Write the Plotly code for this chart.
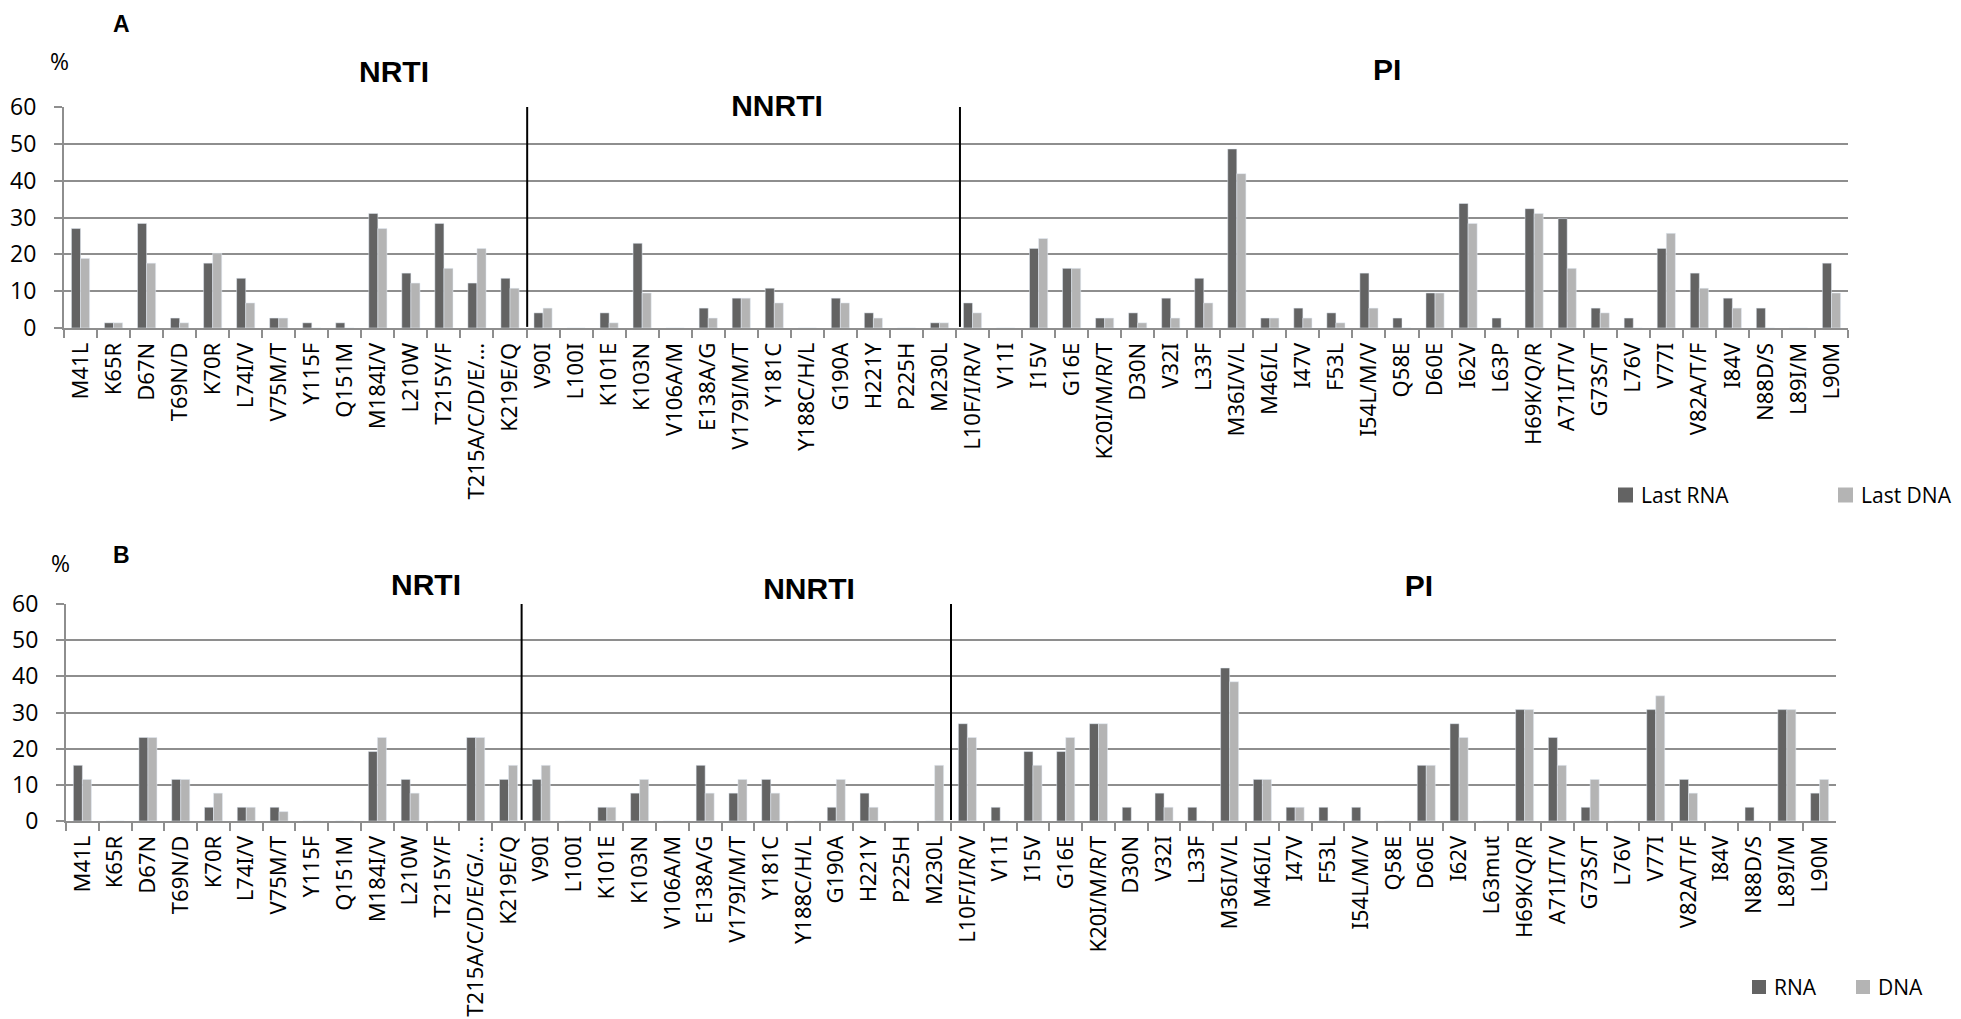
import plotly.graph_objects as go

# ---- mutation categories ----
nrti_a = ["M41L", "K65R", "D67N", "T69N/D", "K70R", "L74I/V", "V75M/T", "Y115F", "Q151M",
          "M184I/V", "L210W", "T215Y/F", "T215A/C/D/E/...", "K219E/Q"]
nrti_b = ["M41L", "K65R", "D67N", "T69N/D", "K70R", "L74I/V", "V75M/T", "Y115F", "Q151M",
          "M184I/V", "L210W", "T215Y/F", "T215A/C/D/E/G/...", "K219E/Q"]
nnrti = ["V90I", "L100I", "K101E", "K103N", "V106A/M", "E138A/G", "V179I/M/T", "Y181C",
         "Y188C/H/L", "G190A", "H221Y", "P225H", "M230L"]
pi_a = ["L10F/I/R/V", "V11I", "I15V", "G16E", "K20I/M/R/T", "D30N", "V32I", "L33F", "M36I/V/L",
        "M46I/L", "I47V", "F53L", "I54L/M/V", "Q58E", "D60E", "I62V", "L63P", "H69K/Q/R",
        "A71I/T/V", "G73S/T", "L76V", "V77I", "V82A/T/F", "I84V", "N88D/S", "L89I/M", "L90M"]
pi_b = ["L10F/I/R/V", "V11I", "I15V", "G16E", "K20I/M/R/T", "D30N", "V32I", "L33F", "M36I/V/L",
        "M46I/L", "I47V", "F53L", "I54L/M/V", "Q58E", "D60E", "I62V", "L63mut", "H69K/Q/R",
        "A71I/T/V", "G73S/T", "L76V", "V77I", "V82A/T/F", "I84V", "N88D/S", "L89I/M", "L90M"]

# ---- panel A: last RNA vs last DNA (%) ----
a_rna_nrti = [27.0, 1.4, 28.4, 2.7, 17.6, 13.5, 2.7, 1.4, 1.4, 31.1, 14.9, 28.4, 12.2, 13.5]
a_dna_nrti = [18.9, 1.4, 17.6, 1.4, 20.3, 6.8, 2.7, 0, 0, 27.0, 12.2, 16.2, 21.6, 10.8]
a_rna_nnrti = [4.1, 0, 4.1, 23.0, 0, 5.4, 8.1, 10.8, 0, 8.1, 4.1, 0, 1.4]
a_dna_nnrti = [5.4, 0, 1.4, 9.5, 0, 2.7, 8.1, 6.8, 0, 6.8, 2.7, 0, 1.4]
a_rna_pi = [6.8, 0, 21.6, 16.2, 2.7, 4.1, 8.1, 13.5, 48.6, 2.7, 5.4, 4.1, 14.9, 2.7, 9.5,
            33.8, 2.7, 32.4, 29.7, 5.4, 2.7, 21.6, 14.9, 8.1, 5.4, 0, 17.6]
a_dna_pi = [4.1, 0, 24.3, 16.2, 2.7, 1.4, 2.7, 6.8, 41.9, 2.7, 2.7, 1.4, 5.4, 0, 9.5,
            28.4, 0, 31.1, 16.2, 4.1, 0, 25.7, 10.8, 5.4, 0, 0, 9.5]

# ---- panel B: RNA vs DNA (%) ----
b_rna_nrti = [15.4, 0, 23.1, 11.5, 3.8, 3.8, 3.8, 0, 0, 19.2, 11.5, 0, 23.1, 11.5]
b_dna_nrti = [11.5, 0, 23.1, 11.5, 7.7, 3.8, 2.6, 0, 0, 23.1, 7.7, 0, 23.1, 15.4]
b_rna_nnrti = [11.5, 0, 3.8, 7.7, 0, 15.4, 7.7, 11.5, 0, 3.8, 7.7, 0, 0]
b_dna_nnrti = [15.4, 0, 3.8, 11.5, 0, 7.7, 11.5, 7.7, 0, 11.5, 3.8, 0, 15.4]
b_rna_pi = [26.9, 3.8, 19.2, 19.2, 26.9, 3.8, 7.7, 3.8, 42.3, 11.5, 3.8, 3.8, 3.8, 0, 15.4,
            26.9, 0, 30.8, 23.1, 3.8, 0, 30.8, 11.5, 0, 3.8, 30.8, 7.7]
b_dna_pi = [23.1, 0, 15.4, 23.1, 26.9, 0, 3.8, 0, 38.5, 11.5, 3.8, 0, 0, 0, 15.4,
            23.1, 0, 30.8, 15.4, 11.5, 0, 34.6, 7.7, 0, 0, 30.8, 11.5]

y_ticks = [0, 10, 20, 30, 40, 50, 60]

DARK = "#636363"
LIGHT = "#b4b4b4"
GRID = "#8e8e8e"
W, H = 1961, 1019

cats_a = nrti_a + nnrti + pi_a
cats_b = nrti_b + nnrti + pi_b


def px_x(p):
    return p / W


def px_y(p):
    return 1 - p / H


fig = go.Figure()
series = [
    ("Last RNA", cats_a, a_rna_nrti + a_rna_nnrti + a_rna_pi, DARK, "x", "y"),
    ("Last DNA", cats_a, a_dna_nrti + a_dna_nnrti + a_dna_pi, LIGHT, "x", "y"),
    ("RNA", cats_b, b_rna_nrti + b_rna_nnrti + b_rna_pi, DARK, "x2", "y2"),
    ("DNA", cats_b, b_dna_nrti + b_dna_nnrti + b_dna_pi, LIGHT, "x2", "y2"),
]
for name, cats, vals, color, xa, ya in series:
    fig.add_trace(go.Bar(x=cats, y=vals, name=name, marker_color=color,
                         xaxis=xa, yaxis=ya, showlegend=False))

xaxis_common = dict(
    type="category", tickangle=-90, ticks="outside", tickson="boundaries", ticklen=8,
    tickwidth=2, tickcolor=GRID, showline=True, linecolor=GRID, linewidth=2,
    showgrid=False, tickfont=dict(family="Noto Sans", size=22, color="#000"),
    ticklabelstandoff=4, fixedrange=True,
)
yaxis_common = dict(
    range=[0, 60], tickvals=y_ticks, ticks="outside", ticklen=8, tickwidth=2, tickcolor=GRID,
    showline=True, linecolor=GRID, linewidth=2, showgrid=True, gridcolor=GRID, gridwidth=2,
    zeroline=False, tickfont=dict(family="Open Sans", size=23, color="#000"),
    ticklabelstandoff=13, fixedrange=True,
)

fig.update_layout(
    width=W, height=H,
    margin=dict(l=0, r=0, t=0, b=0, autoexpand=False),
    paper_bgcolor="white", plot_bgcolor="white",
    barmode="group", bargap=0.45, bargroupgap=0,
    xaxis=dict(domain=[px_x(64), px_x(1848)], anchor="y", categoryorder="array",
               categoryarray=cats_a, **xaxis_common),
    yaxis=dict(domain=[px_y(328), px_y(107)], anchor="x", **yaxis_common),
    xaxis2=dict(domain=[px_x(66), px_x(1836)], anchor="y2", categoryorder="array",
                categoryarray=cats_b, **xaxis_common),
    yaxis2=dict(domain=[px_y(821), px_y(604)], anchor="x2", **yaxis_common),
)

# drug-class separators
shapes = []
for xr, yr, xs in (("x", "y", (13.52, 26.62)), ("x2", "y2", (13.4, 26.5))):
    for xv in xs:
        shapes.append(dict(type="line", xref=xr, yref=yr, x0=xv, x1=xv, y0=0.3, y1=60.7,
                           line=dict(color="black", width=2), layer="above"))

# legend keys: (swatch left px, swatch size px, centre y px, label, colour)
legend_keys = [
    (1618, 15, 495, "Last RNA", DARK),
    (1838, 15, 495, "Last DNA", LIGHT),
    (1752, 14, 987, "RNA", DARK),
    (1856, 14, 987, "DNA", LIGHT),
]
legend_font = dict(family="Open Sans", size=21, color="#000")
annotations = []
for left, size, cy, label, color in legend_keys:
    shapes.append(dict(type="rect", xref="paper", yref="paper",
                       x0=px_x(left), x1=px_x(left + size),
                       y0=px_y(cy + size / 2), y1=px_y(cy - size / 2),
                       fillcolor=color, line=dict(width=0), layer="above"))
    annotations.append(dict(text=label, x=px_x(left + size + 6), y=px_y(cy),
                            xanchor="left", font=legend_font))
fig.update_layout(shapes=shapes)

bold = dict(family="Liberation Sans", size=30, color="#000")
plain = dict(family="Open Sans", size=23, color="#000")
letter = dict(family="Liberation Sans", size=23, color="#000")
annotations += [
    dict(text="<b>A</b>", x=px_x(121), y=px_y(24), font=letter),
    dict(text="<b>B</b>", x=px_x(121), y=px_y(555), font=letter),
    dict(text="%", x=px_x(59), y=px_y(61), font=plain),
    dict(text="%", x=px_x(60), y=px_y(563), font=plain),
    dict(text="<b>NRTI</b>", x=px_x(394), y=px_y(72), font=bold),
    dict(text="<b>NNRTI</b>", x=px_x(777), y=px_y(105), font=bold, bgcolor="white",
         width=150, borderpad=2),
    dict(text="<b>PI</b>", x=px_x(1387), y=px_y(70), font=bold),
    dict(text="<b>NRTI</b>", x=px_x(426), y=px_y(584), font=bold, bgcolor="white",
         width=150, borderpad=3),
    dict(text="<b>NNRTI</b>", x=px_x(809), y=px_y(588), font=bold, bgcolor="white",
         width=150, borderpad=3),
    dict(text="<b>PI</b>", x=px_x(1419), y=px_y(585), font=bold, bgcolor="white",
         width=148, borderpad=3),
]
for a in annotations:
    a.setdefault("xanchor", "center")
    a.update(xref="paper", yref="paper", showarrow=False, yanchor="middle")
fig.update_layout(annotations=annotations)

fig.write_html("out.html")
